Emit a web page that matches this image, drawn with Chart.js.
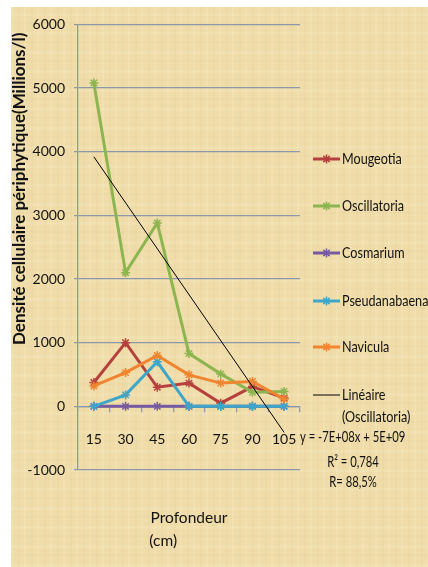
<!DOCTYPE html>
<html lang="fr">

<head>
    <meta charset="UTF-8">
    <title>Densité cellulaire périphytique</title>
    <style>
        html,
        body {
            height: 100%;
            padding: 0;
            margin: 0;
            background: #fff;
        }

        .paper {
            position: absolute;
            left: 11px;
            top: 7px;
            width: 417px;
            height: 560px;
            background-color: #efdca9;
            background-image:
                repeating-linear-gradient(90deg, rgba(255, 255, 235, 0.12) 0 2px, rgba(0, 0, 0, 0) 2px 7px, rgba(190, 160, 100, 0.05) 7px 9px, rgba(0, 0, 0, 0) 9px 13px),
                repeating-linear-gradient(0deg, rgba(255, 255, 235, 0.10) 0 3px, rgba(0, 0, 0, 0) 3px 11px, rgba(190, 160, 100, 0.04) 11px 13px, rgba(0, 0, 0, 0) 13px 19px);
        }
    </style>
</head>

<body>
    <div class="paper">
        <canvas id="densityChart"></canvas>
    </div>
</body>

<script src="https://cdn.jsdelivr.net/npm/chart.js@4.4.6/dist/chart.umd.min.js"></script>
<script>
    const depths = ['15', '30', '45', '60', '75', '90', '105'];
    const mougeotia = [375, 1000, 300, 365, 50, 310, 130];
    const oscillatoria = [5080, 2100, 2880, 830, 510, 220, 235];
    const cosmarium = [0, 0, 0, 0, 0, 0, 0];
    const pseudanabaena = [0, 180, 700, 0, 0, 0, 0];
    const navicula = [320, 530, 800, 495, 365, 390, 115];
    // linear trend of Oscillatoria, read at both ends
    const trendOscillatoria = [3920, null, null, null, null, null, -410];
    const trendText = ['y = -7E+08x + 5E+09', 'R² = 0,784', 'R= 88,5%'];

    const fontFamily = "Lato, 'Liberation Sans', sans-serif";
    const textColor = '#111';
    const gridColor = '#8d98ab';

    function series(label, data, color, order) {
        return {
            label,
            data,
            borderColor: color,
            backgroundColor: color,
            borderWidth: 3,
            pointStyle: 'star',
            pointRadius: 4.5,
            pointBorderWidth: 1.5,
            pointBorderColor: color,
            order,
        };
    }

    // narrow text: the original font is much narrower than Lato
    function narrowText(ctx, text, x, y, align, sx) {
        ctx.save();
        ctx.translate(x, y);
        ctx.scale(sx, 1);
        ctx.textAlign = align;
        ctx.fillText(text, 0, 0);
        ctx.restore();
    }

    // right-hand legend, with the trend line label and equation
    const sideLegend = {
        id: 'sideLegend',
        afterDraw(chart) {
            const ctx = chart.ctx;
            const x0 = 302, x1 = 329, tx = 331;
            ctx.save();
            ctx.font = '15px ' + fontFamily;
            ctx.textBaseline = 'middle';
            ctx.fillStyle = textColor;
            const rows = [152, 199, 246, 294, 340];
            chart.data.datasets.slice(0, 5).forEach((ds, i) => {
                const y = rows[i];
                ctx.strokeStyle = ds.borderColor;
                ctx.lineWidth = 3;
                ctx.beginPath();
                ctx.moveTo(x0, y);
                ctx.lineTo(x1, y);
                ctx.stroke();
                ctx.lineWidth = 1.5;
                ctx.beginPath();
                const r = 4.5, c = (x0 + x1) / 2;
                ctx.moveTo(c - r, y); ctx.lineTo(c + r, y);
                ctx.moveTo(c, y - r); ctx.lineTo(c, y + r);
                ctx.moveTo(c - r * 0.7, y - r * 0.7); ctx.lineTo(c + r * 0.7, y + r * 0.7);
                ctx.moveTo(c - r * 0.7, y + r * 0.7); ctx.lineTo(c + r * 0.7, y - r * 0.7);
                ctx.stroke();
                narrowText(ctx, ds.label, tx, y, 'left', 0.84);
            });
            ctx.strokeStyle = '#000';
            ctx.lineWidth = 1;
            ctx.beginPath();
            ctx.moveTo(x0, 388);
            ctx.lineTo(x1, 388);
            ctx.stroke();
            narrowText(ctx, 'Linéaire', tx, 388, 'left', 0.84);
            narrowText(ctx, '(Oscillatoria)', tx, 410, 'left', 0.84);
            narrowText(ctx, trendText[0], 289, 430, 'left', 0.75);
            narrowText(ctx, trendText[1], 342, 455, 'center', 0.75);
            narrowText(ctx, trendText[2], 342, 475, 'center', 0.75);
            ctx.restore();
        }
    };

    const densityChart = document.getElementById('densityChart');
    const chart = new Chart(densityChart, {
        type: 'line',
        data: {
            labels: depths,
            datasets: [
                series('Mougeotia', mougeotia, '#b5403d', 5),
                series('Oscillatoria', oscillatoria, '#8db54f', 4),
                series('Cosmarium', cosmarium, '#7659a0', 3),
                series('Pseudanabaena', pseudanabaena, '#3ea6c8', 2),
                series('Navicula', navicula, '#f0852f', 1),
                {
                    label: 'Linéaire (Oscillatoria)',
                    data: trendOscillatoria,
                    borderColor: '#000',
                    borderWidth: 1,
                    pointRadius: 0,
                    spanGaps: true,
                    order: 0,
                },
            ]
        },
        options: {
            animation: false,
            maintainAspectRatio: false,
            layout: { padding: { left: 0, right: 128, top: 15, bottom: 97 } },
            scales: {
                x: {
                    type: 'category',
                    position: { y: 0 },
                    offset: true,
                    grid: { offset: true, drawOnChartArea: false, tickLength: 5, color: gridColor, lineWidth: 1.25 },
                    border: { color: gridColor, width: 1.25 },
                    ticks: { color: textColor, padding: 20, maxRotation: 0, autoSkip: false, font: { family: fontFamily, size: 14 } },
                    title: {
                        display: true,
                        text: ['Profondeur', '(cm)\u00a0\u00a0\u00a0\u00a0\u00a0\u00a0\u00a0\u00a0\u00a0\u00a0\u00a0\u00a0\u00a0'],
                        color: textColor,
                        font: { family: fontFamily, size: 15.5, lineHeight: 1.5 },
                        padding: { top: 38, bottom: 0 },
                    },
                },
                y: {
                    min: -1000,
                    max: 6000,
                    afterFit: (scale) => { scale.width = 67; },
                    ticks: { stepSize: 1000, color: textColor, padding: 9, callback: (v) => String(v), font: { family: fontFamily, size: 14 } },
                    grid: { color: gridColor, lineWidth: 1.25, tickLength: 4 },
                    border: { color: gridColor, width: 1.25 },
                    title: {
                        display: true,
                        align: 'end',
                        text: 'Densité cellulaire périphytique(Millions/l)\u00a0\u00a0',
                        color: textColor,
                        font: { family: fontFamily, size: 17, weight: 'bold', lineHeight: 1 },
                        padding: 0,
                    },
                },
            },
            plugins: {
                legend: { display: false },
                tooltip: { enabled: false },
            },
        },
        plugins: [sideLegend],
    });
</script>

</html>
